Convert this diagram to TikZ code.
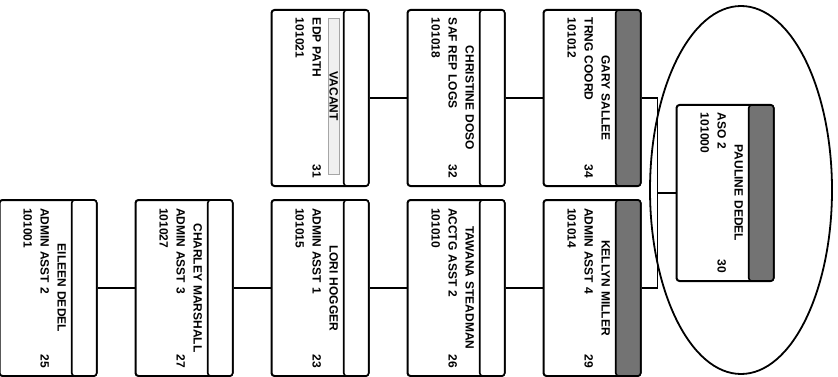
\documentclass[tikz,border=0pt]{standalone}
\usepackage{fontspec}
\setmainfont{Liberation Sans}
\usepackage{xcolor}
\usepackage{tikz}
\usetikzlibrary{shapes,arrows,positioning}
\definecolor{HDR}{RGB}{115,115,115}

\begin{document}
\begin{tikzpicture}[
      x=1pt, y=1pt,
      node distance=37pt,
      card/.style={rectangle, draw, line width=2pt, rounded corners=3pt, fill=white, text width=160pt, align=left, minimum width=176pt, minimum height=97pt, inner xsep=8pt, font=\bfseries\fontsize{12}{17}\selectfont, execute at begin node=\rule{0pt}{15pt}},
      head/.style={rectangle, draw, line width=1.6pt, rounded corners=3pt, fill=white, minimum width=176pt, minimum height=25pt, anchor=north},
      darkhead/.style={head, fill=HDR},
      line/.style={line width=1.8pt},
      rotate=-90,
      transform shape
    ]
    \useasboundingbox (0,0) rectangle (377,838);

    % Top of the chart
    \node[card] (pauline) at (193,725) {\hfill PAULINE DEDEL\hfill\null\\ASO 2\hfill 30\\101000};
    \node[card] (gary) at (98,592) {\hfill GARY SALLEE\hfill\null\\TRNG COORD\hfill 34\\101012};
    \node[card, right=12pt of gary] (kelly) {\hfill KELLYN MILLER\hfill\null\\ADMIN ASST 4\hfill 29\\101014};

    % Left branch
    \node[card, below=of gary] (christine) {\hfill CHRISTINE DOSO\hfill\null\\SAF REP LOGS\hfill 32\\101018};
    \node[card, below=of christine] (vacant) {{\setlength{\fboxsep}{1pt}\fcolorbox{gray!70}{gray!12}{\makebox[154pt]{VACANT}}}\\EDP PATH\hfill 31\\101021};

    % Right branch
    \node[card, below=of kelly] (tawana) {\hfill TAWANA STEADMAN\hfill\null\\ACCTG ASST 2\hfill 26\\101010};
    \node[card, below=of tawana] (lori) {\hfill LORI HOGGER\hfill\null\\ADMIN ASST 1\hfill 23\\101015};
    \node[card, below=of lori] (charley) {\hfill CHARLEY MARSHALL\hfill\null\\ADMIN ASST 3\hfill 27\\101027};
    \node[card, below=of charley] (eileen) {\hfill EILEEN DEDEL\hfill\null\\ADMIN ASST 2\hfill 25\\101001};

    % Header strips
    \node[darkhead] (pauline-h) at (pauline.north) {};
    \node[darkhead] (gary-h) at (gary.north) {};
    \node[darkhead] (kelly-h) at (kelly.north) {};
    \node[head] (christine-h) at (christine.north) {};
    \node[head] (vacant-h) at (vacant.north) {};
    \node[head] (tawana-h) at (tawana.north) {};
    \node[head] (lori-h) at (lori.north) {};
    \node[head] (charley-h) at (charley.north) {};
    \node[head] (eileen-h) at (eileen.north) {};

    % Reporting lines
    \coordinate[below=18pt of pauline.south] (bus);
    \draw[line] (pauline.south) -- (bus);
    \draw[line] (gary.north) -- (gary.north |- bus) -- (kelly.north |- bus) -- (kelly.north);
    \draw[line] (gary.south) -- (christine.north);
    \draw[line] (christine.south) -- (vacant.north);
    \draw[line] (kelly.south) -- (tawana.north);
    \draw[line] (tawana.south) -- (lori.north);
    \draw[line] (lori.south) -- (charley.north);
    \draw[line] (charley.south) -- (eileen.north);

    % Ring round the top box
    \draw[line] (190,741) ellipse [x radius=184pt, y radius=91pt];
\end{tikzpicture}
\end{document}
